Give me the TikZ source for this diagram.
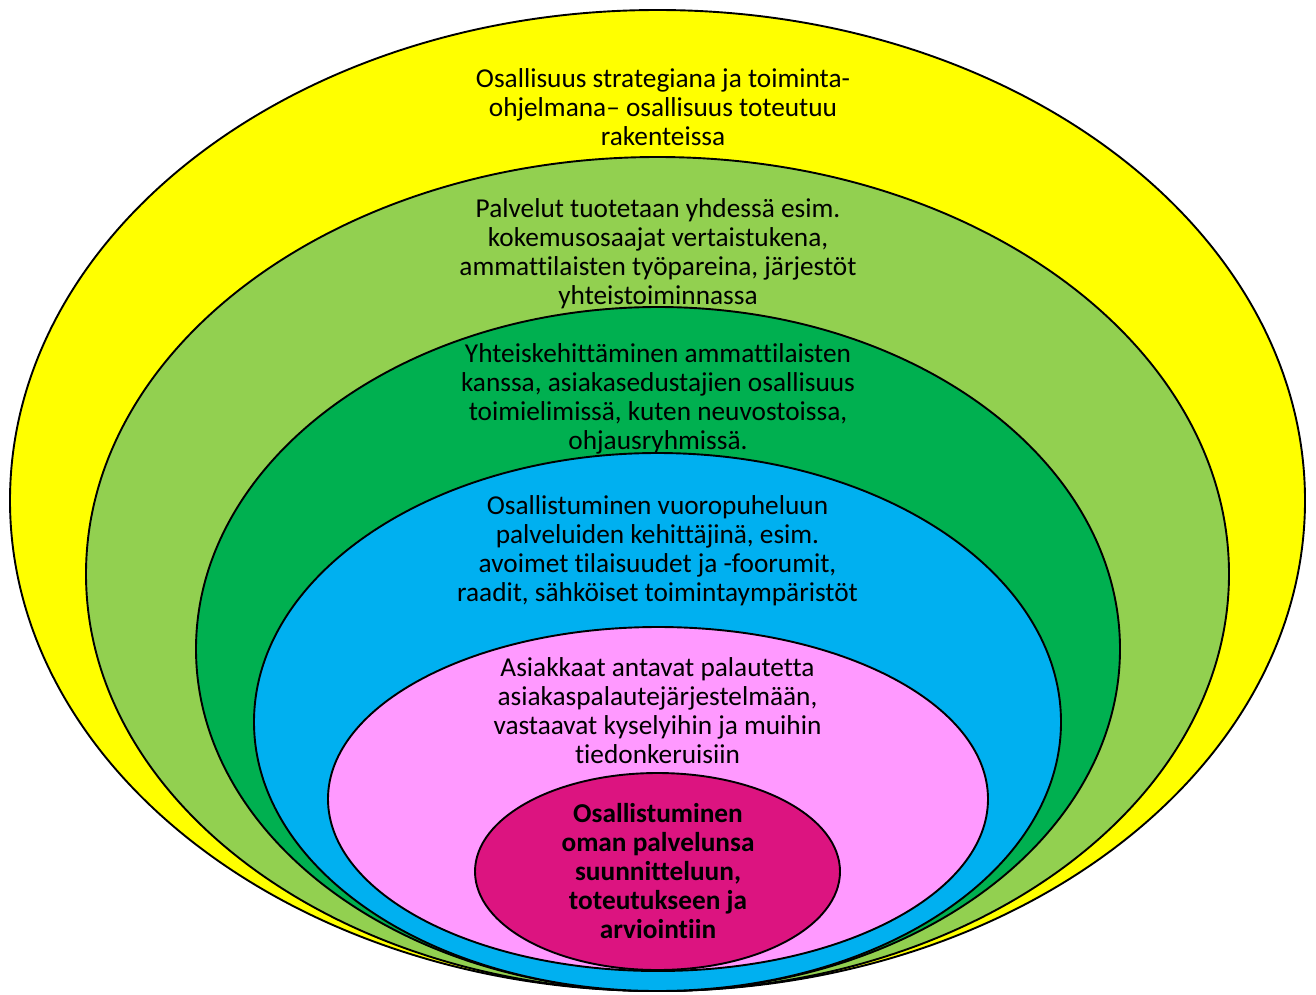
\documentclass[tikz,border=0pt]{standalone}
\usepackage{fontspec}
\setmainfont[Ligatures={NoCommon}]{Carlito}
\definecolor{cyellow}{HTML}{FFFF00}
\definecolor{clgreen}{HTML}{92D050}
\definecolor{cdgreen}{HTML}{00B050}
\definecolor{cblue}{HTML}{00B0F0}
\definecolor{cpink}{HTML}{FF99FF}
\definecolor{cmag}{HTML}{DC1480}
\tikzset{
  ring/.style={draw=black, line width=1.9pt},
  lbl/.style={align=center, inner sep=0pt, font=\fontsize{27.3}{29}\selectfont},
}
\begin{document}
\begin{tikzpicture}[x=1pt,y=1pt]
\useasboundingbox (0,0) rectangle (1316,-994);
\path[ring, fill=cyellow] (657.5,-500.5) ellipse [x radius=647.5, y radius=490.5];
\node[lbl] (t1) at (663,-107) {Osallisuus strategiana ja toiminta-\\ohjelmana– osallisuus toteutuu\\rakenteissa};
\path[ring, fill=clgreen] (657.5,-574) ellipse [x radius=571.5, y radius=417];
\node[lbl] (t2) at (658,-254) {Palvelut tuotetaan yhdessä esim.\\kokemusosaajat vertaistukena,\\ammattilaisten työpareina, järjestöt\\yhteistoiminnassa};
\path[ring, fill=cdgreen] (658,-649) ellipse [x radius=462, y radius=342];
\node[lbl] (t3) at (658,-399) {Yhteiskehittäminen ammattilaisten\\kanssa, asiakasedustajien osallisuus\\toimielimissä, kuten neuvostoissa,\\ohjausryhmissä.};
\path[ring, fill=cblue] (657.5,-722) ellipse [x radius=403.5, y radius=269];
\node[lbl] (t4) at (657.5,-550.5) {Osallistuminen vuoropuheluun\\palveluiden kehittäjinä, esim.\\avoimet tilaisuudet ja -foorumit,\\raadit, sähköiset toimintaympäristöt};
\path[ring, fill=cpink] (658,-799) ellipse [x radius=330, y radius=172];
\node[lbl] (t5) at (657.5,-711) {Asiakkaat antavat palautetta\\asiakaspalautejärjestelmään,\\vastaavat kyselyihin ja muihin\\tiedonkeruisiin};
\path[ring, fill=cmag] (657.5,-871.5) ellipse [x radius=182.5, y radius=98.5];
\node[lbl, font=\fontsize{27.3}{29}\selectfont\bfseries] (t6) at (658,-871.5) {Osallistuminen\\oman palvelunsa\\suunnitteluun,\\toteutukseen ja\\arviointiin};
\end{tikzpicture}
\end{document}
